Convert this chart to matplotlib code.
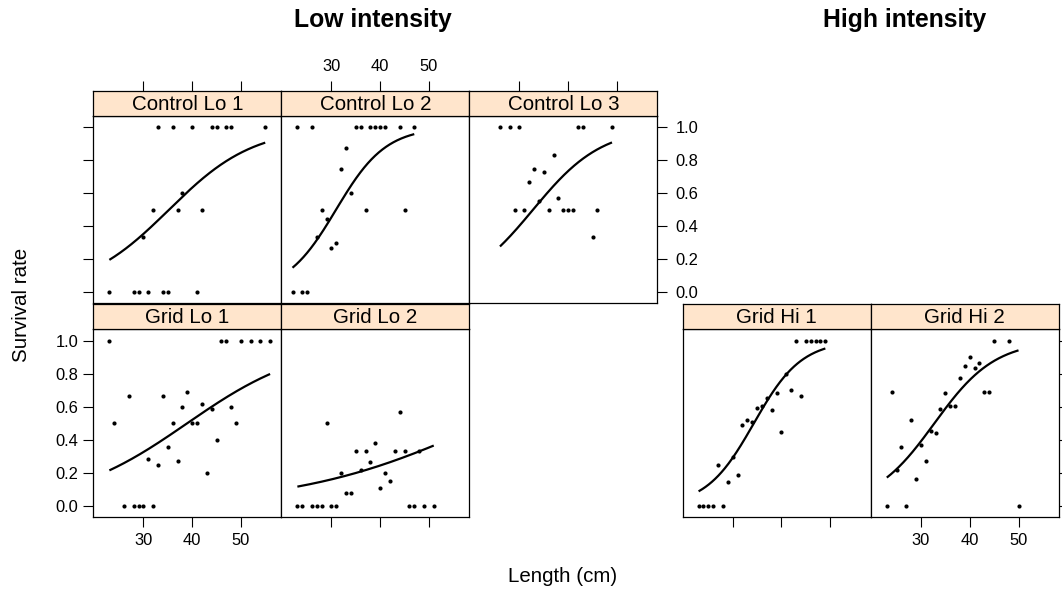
#!/usr/bin/env python3
"""Survival rate vs length, logistic fits per plot (lattice-style panels)."""

import matplotlib
matplotlib.use("Agg")
import matplotlib.pyplot as plt
import numpy as np

plt.rcParams["font.family"] = ["Liberation Sans", "DejaVu Sans"]

W, H = 1062, 595

# ---- data -------------------------------------------------------------
control_lo1_len = [33, 36, 40, 44, 45, 47, 48, 55, 32, 37, 42, 38, 30,
                   23, 28, 29, 31, 34, 35, 41]
control_lo1_surv = [1, 1, 1, 1, 1, 1, 1, 1, 0.5, 0.5, 0.5, 0.6, 0.333,
                    0, 0, 0, 0, 0, 0, 0]

control_lo2_len = [23, 26, 35, 36, 38, 39, 40, 41, 44, 47, 33, 32, 34,
                   28, 37, 45, 29, 27, 31, 30, 22, 24, 25]
control_lo2_surv = [1, 1, 1, 1, 1, 1, 1, 1, 1, 1, 0.875, 0.75, 0.6,
                    0.5, 0.5, 0.5, 0.444, 0.333, 0.3, 0.267, 0, 0, 0]

control_lo3_len = [26, 28, 30, 42, 43, 49, 37, 33, 35, 32, 38, 34,
                   29, 31, 36, 39, 40, 41, 46, 45]
control_lo3_surv = [1, 1, 1, 1, 1, 1, 0.833, 0.75, 0.727, 0.667, 0.571, 0.556,
                    0.5, 0.5, 0.5, 0.5, 0.5, 0.5, 0.5, 0.333]

grid_lo1_len = [23, 46, 47, 50, 52, 54, 56, 27, 34, 39, 38, 48, 42, 44,
                24, 36, 40, 41, 49, 45, 35, 31, 37, 33, 43, 26, 28, 29, 30, 32]
grid_lo1_surv = [1, 1, 1, 1, 1, 1, 1, 0.667, 0.667, 0.692, 0.6, 0.6, 0.615, 0.588,
                 0.5, 0.5, 0.5, 0.5, 0.5, 0.4, 0.357, 0.286, 0.273, 0.25, 0.2,
                 0, 0, 0, 0, 0]

grid_lo2_len = [29, 44, 39, 35, 37, 43, 45, 48, 38, 36, 32, 41, 42, 40, 33, 34,
                23, 24, 26, 27, 28, 30, 31, 46, 47, 49, 51]
grid_lo2_surv = [0.5, 0.571, 0.385, 0.333, 0.333, 0.333, 0.333, 0.333, 0.267,
                 0.222, 0.2, 0.2, 0.154, 0.111, 0.083, 0.083,
                 0, 0, 0, 0, 0, 0, 0, 0, 0, 0, 0]

grid_hi1_len = [43, 45, 46, 47, 48, 49, 41, 42, 44, 39, 37, 36, 35, 38, 33, 34,
                32, 40, 30, 27, 31, 29, 23, 24, 25, 26, 28]
grid_hi1_surv = [1, 1, 1, 1, 1, 1, 0.8, 0.7, 0.667, 0.684, 0.654, 0.608, 0.596,
                 0.58, 0.523, 0.511, 0.489, 0.447, 0.3, 0.25, 0.187, 0.147,
                 0, 0, 0, 0, 0]

grid_hi2_len = [45, 48, 40, 42, 39, 41, 38, 24, 43, 44, 35, 36, 37, 34, 28, 32,
                33, 30, 26, 31, 25, 29, 23, 27, 50]
grid_hi2_surv = [1, 1, 0.9, 0.867, 0.847, 0.833, 0.775, 0.688, 0.688, 0.688,
                 0.682, 0.608, 0.608, 0.588, 0.523, 0.453, 0.44, 0.368, 0.356,
                 0.274, 0.217, 0.165, 0, 0, 0]

# logistic fit coefficients per panel (intercept, slope on length)
fit_intercept = [-4.05, -6.03, -4.62, -3.137, -3.198, -7.0, -5.25]
fit_slope = [0.115, 0.195, 0.141, 0.0806, 0.052, 0.204, 0.1604]

panel_names = ["Control Lo 1", "Control Lo 2", "Control Lo 3",
               "Grid Lo 1", "Grid Lo 2", "Grid Hi 1", "Grid Hi 2"]
panel_len = [control_lo1_len, control_lo2_len, control_lo3_len,
             grid_lo1_len, grid_lo2_len, grid_hi1_len, grid_hi2_len]
panel_surv = [control_lo1_surv, control_lo2_surv, control_lo3_surv,
              grid_lo1_surv, grid_lo2_surv, grid_hi1_surv, grid_hi2_surv]

x_ticks = [30, 40, 50]
y_ticks = [0.0, 0.2, 0.4, 0.6, 0.8, 1.0]

# ---- layout (pixels) --------------------------------------------------
COLS = {"lo1": (93.3, 281.3), "lo2": (281.3, 469.3), "lo3": (469.3, 657.3),
        "hi1": (682.5, 870.7), "hi2": (870.7, 1059.0)}
ROWS = {"top": (91.0, 116.0, 303.3), "bot": (303.8, 329.3, 517.3)}

# (column, row, left, right, bottom, top) axis drawing: None / "ticks" / "labels"
LAYOUT = [
    ("lo1", "top", "ticks", None, None, "ticks"),
    ("lo2", "top", None, None, None, "labels"),
    ("lo3", "top", None, "labels", None, "ticks"),
    ("lo1", "bot", "labels", None, "labels", None),
    ("lo2", "bot", None, None, "ticks", None),
    ("hi1", "bot", None, None, "ticks", None),
    ("hi2", "bot", None, "ticks", "labels", None),
]

XLIM = (19.7, 58.3)
YLIM = (-0.066, 1.068)
STRIP_BG = "#FFE5CC"
AXIS_FS = 11.9
STRIP_FS = 14.8
LABEL_FS = 14.8
TITLE_FS = 17.8
TICK_LEN = 7.5


def rect(x0, y0, x1, y1):
  return [x0 / W, 1 - y1 / H, (x1 - x0) / W, (y1 - y0) / H]


def style_spines(ax):
  for sp in ax.spines.values():
    sp.set_color("#000000")
    sp.set_linewidth(0.9)


fig = plt.figure(figsize=(W / 100, H / 100), dpi=100)

for idx, (col, row, left, right, bottom, top) in enumerate(LAYOUT):
  x0, x1 = COLS[col]
  s0, s1, p1 = ROWS[row]

  ax = fig.add_axes(rect(x0, s1, x1, p1))
  ax.set_xlim(*XLIM)
  ax.set_ylim(*YLIM)
  style_spines(ax)

  xs = np.array(panel_len[idx], dtype=float)
  ys = np.array(panel_surv[idx], dtype=float)
  ax.plot(xs, ys, "o", color="black", markersize=3.0, markeredgewidth=0)
  grid = np.linspace(xs.min(), xs.max(), 200)
  fit = 1 / (1 + np.exp(-(fit_intercept[idx] + fit_slope[idx] * grid)))
  ax.plot(grid, fit, color="black", linewidth=1.6, solid_capstyle="butt")

  ax.tick_params(length=TICK_LEN, width=0.8, color="#000000",
                 labelsize=AXIS_FS, direction="out")
  ax.set_xticks(x_ticks)
  ax.set_yticks(y_ticks)
  ax.set_yticklabels([f"{v:.1f}" for v in y_ticks])
  ax.tick_params(axis="x", top=False, labeltop=False,
                 bottom=bottom is not None, labelbottom=bottom == "labels",
                 pad=4)
  ax.tick_params(axis="y", left=left is not None, labelleft=left == "labels",
                 right=right is not None, labelright=right == "labels",
                 pad=3.5)
  if right == "labels":
    ax.tick_params(axis="y", pad=5.5)

  sax = fig.add_axes(rect(x0, s0, x1, s1))
  sax.set_facecolor(STRIP_BG)
  sax.set_xlim(*XLIM)
  sax.set_ylim(0, 1)
  style_spines(sax)
  sax.set_yticks([])
  sax.set_xticks(x_ticks)
  sax.tick_params(axis="x", bottom=False, labelbottom=False,
                  top=top is not None, labeltop=top == "labels",
                  length=TICK_LEN, width=0.8, labelsize=AXIS_FS, pad=5)
  sax.text(0.5, 0.47, panel_names[idx], transform=sax.transAxes,
           ha="center", va="center", fontsize=STRIP_FS)

fig.text(372.5 / W, 1 - 20.5 / H, "Low intensity", ha="center", va="center",
         fontsize=TITLE_FS, fontweight="bold")
fig.text(905 / W, 1 - 20.5 / H, "High intensity", ha="center", va="center",
         fontsize=TITLE_FS, fontweight="bold")
fig.text(22 / W, 1 - 305 / H, "Survival rate", ha="center", va="center",
         rotation=90, fontsize=LABEL_FS)
fig.text(563 / W, 1 - 577 / H, "Length (cm)", ha="center", va="center",
         fontsize=LABEL_FS)

fig.savefig("out.png", dpi=100)
plt.close(fig)
